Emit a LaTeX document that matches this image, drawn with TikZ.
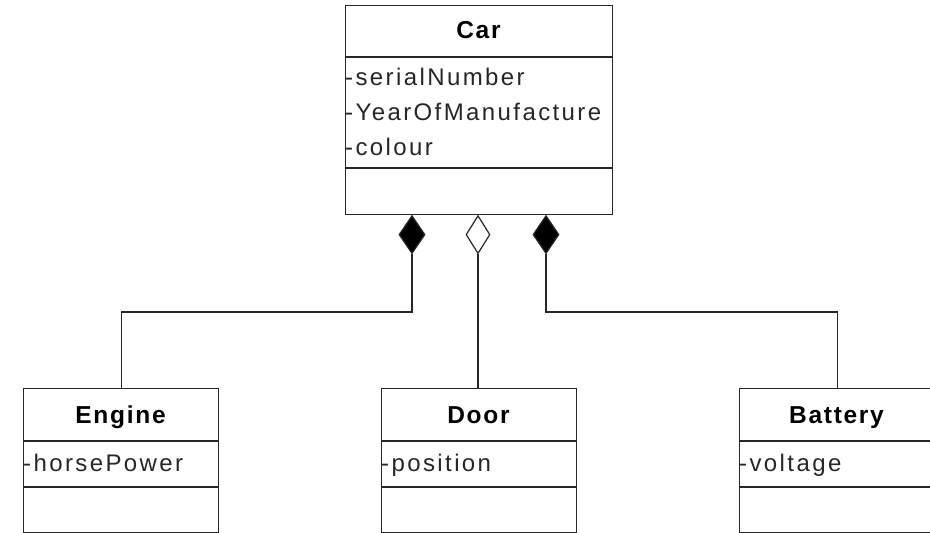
\documentclass[tikz,border=0pt]{standalone}
\usepackage{fontspec}
\setmainfont{Liberation Sans}
\newfontfamily\attrfont[LetterSpace=10]{Liberation Sans}
\newfontfamily\titlefont[LetterSpace=7]{Liberation Sans}
\usetikzlibrary{shapes.geometric}
\begin{document}
\begin{tikzpicture}[x=1pt,y=-1pt,
  box/.style={draw=black!85, line width=1.3pt, rectangle, inner sep=0pt, anchor=north west},
  sep/.style={draw=black!85, line width=1.3pt},
  conn/.style={draw=black!85, line width=1.3pt},
  title/.style={anchor=base, inner sep=0pt, font=\titlefont\bfseries\fontsize{24.5}{28}\selectfont},
  attr/.style={anchor=base west, inner sep=0pt, text=black!85, font=\attrfont\fontsize{24}{28}\selectfont},
  comp/.style={diamond, draw=black!85, line width=1.2pt, fill=black, inner sep=0pt, minimum width=26pt, minimum height=38pt, anchor=north},
  aggr/.style={comp, fill=white, minimum width=24pt}]
\useasboundingbox (0,0) rectangle (930,533);
\clip (0,0) rectangle (930,533);
% Car
\node[box, minimum width=267pt, minimum height=209pt] (car) at (345,5) {};
\draw[sep] (345,57) -- (612,57);
\draw[sep] (345,168) -- (612,168);
\node[title] (cartitle) at (478.5,38) {Car};
\node[attr] (car1) at (345,85) {-serialNumber};
\node[attr] (car2) at (345,120) {-YearOfManufacture};
\node[attr] (car3) at (345,155) {-colour};
% Engine
\node[box, minimum width=195pt, minimum height=144pt] (engine) at (23,388) {};
\draw[sep] (23,441) -- (218,441);
\draw[sep] (23,487) -- (218,487);
\node[title] (enginetitle) at (120.5,423) {Engine};
\node[attr] (engine1) at (23,471) {-horsePower};
% Door
\node[box, minimum width=195pt, minimum height=144pt] (door) at (381,388) {};
\draw[sep] (381,441) -- (576,441);
\draw[sep] (381,487) -- (576,487);
\node[title] (doortitle) at (478.5,423) {Door};
\node[attr] (door1) at (381,471) {-position};
% Battery
\node[box, minimum width=195pt, minimum height=144pt] (battery) at (739,388) {};
\draw[sep] (739,441) -- (934,441);
\draw[sep] (739,487) -- (934,487);
\node[title] (batterytitle) at (836.5,423) {Battery};
\node[attr] (battery1) at (739,471) {-voltage};
% Diamonds
\node[comp] (dEng) at (412,215) {};
\node[aggr] (dDoor) at (478,215) {};
\node[comp] (dBat) at (546,215) {};
% Connectors
\draw[conn] (dEng.south) -- (dEng.south |- 0,312) -| (engine.north);
\draw[conn] (dDoor.south) -- (dDoor.south |- door.north);
\draw[conn] (dBat.south) -- (dBat.south |- 0,312) -| (battery.north);
\end{tikzpicture}
\end{document}
